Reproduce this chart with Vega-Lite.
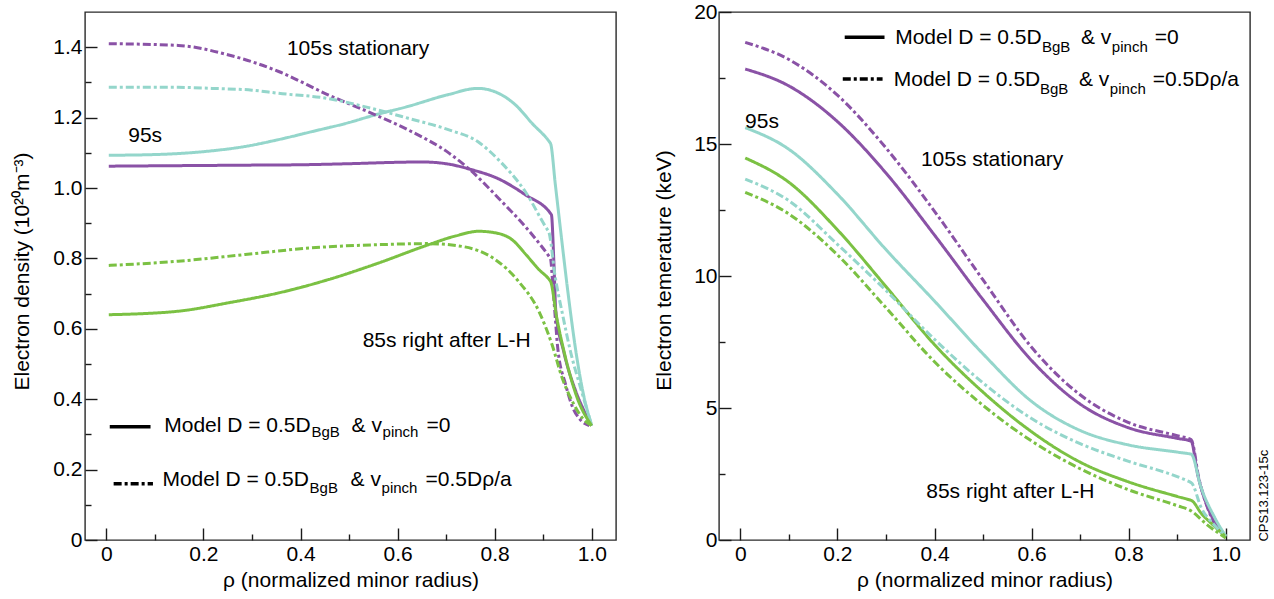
{
  "$schema": "https://vega.github.io/schema/vega-lite/v6.json",
  "padding": {"left": 10, "top": 0, "right": 0, "bottom": 0},
  "bounds": "flush",
  "spacing": 103,
  "background": "white",
  "config": {
    "font": "Liberation Sans",
    "view": {"stroke": "#2a2a2a", "strokeWidth": 1.4},
    "axis": {
      "grid": false,
      "domain": false,
      "labelFont": "Liberation Sans",
      "labelFontSize": 21,
      "labelColor": "#000000",
      "titleFont": "Liberation Sans",
      "titleFontSize": 21,
      "titleFontWeight": "normal",
      "titleColor": "#000000",
      "tickColor": "#1a1a1a",
      "tickWidth": 1.4,
      "zindex": 1
    },
    "text": {"font": "Liberation Sans", "color": "#000000"}
  },
  "resolve": {"scale": {"x": "independent", "y": "independent"}},
  "datasets": {
    "dens": [
      {"t":"105s","m":"A","x":0.005,"y":1.062},{"t":"105s","m":"A","x":0.1,"y":1.063},{"t":"105s","m":"A","x":0.2,"y":1.064},{"t":"105s","m":"A","x":0.3,"y":1.065},{"t":"105s","m":"A","x":0.4,"y":1.066},{"t":"105s","m":"A","x":0.5,"y":1.069},{"t":"105s","m":"A","x":0.6,"y":1.073},{"t":"105s","m":"A","x":0.65,"y":1.074},{"t":"105s","m":"A","x":0.7,"y":1.069},{"t":"105s","m":"A","x":0.75,"y":1.053},{"t":"105s","m":"A","x":0.808,"y":1.026},{"t":"105s","m":"A","x":0.863,"y":0.981},{"t":"105s","m":"A","x":0.9165,"y":0.925},{"t":"105s","m":"A","x":0.917,"y":0.924},{"t":"105s","m":"A","x":0.922,"y":0.79},{"t":"105s","m":"A","x":0.926,"y":0.65},{"t":"105s","m":"A","x":0.942,"y":0.537},{"t":"105s","m":"A","x":0.967,"y":0.423},{"t":"105s","m":"A","x":0.985,"y":0.365},{"t":"105s","m":"A","x":1.0,"y":0.325},
      {"t":"95s","m":"A","x":0.005,"y":1.093},{"t":"95s","m":"A","x":0.1,"y":1.095},{"t":"95s","m":"A","x":0.15,"y":1.098},{"t":"95s","m":"A","x":0.22,"y":1.106},{"t":"95s","m":"A","x":0.286,"y":1.118},{"t":"95s","m":"A","x":0.35,"y":1.136},{"t":"95s","m":"A","x":0.423,"y":1.16},{"t":"95s","m":"A","x":0.5,"y":1.186},{"t":"95s","m":"A","x":0.547,"y":1.205},{"t":"95s","m":"A","x":0.622,"y":1.232},{"t":"95s","m":"A","x":0.706,"y":1.266},{"t":"95s","m":"A","x":0.765,"y":1.283},{"t":"95s","m":"A","x":0.808,"y":1.269},{"t":"95s","m":"A","x":0.843,"y":1.236},{"t":"95s","m":"A","x":0.877,"y":1.184},{"t":"95s","m":"A","x":0.9145,"y":1.128},{"t":"95s","m":"A","x":0.915,"y":1.127},{"t":"95s","m":"A","x":0.925,"y":1.01},{"t":"95s","m":"A","x":0.935,"y":0.89},{"t":"95s","m":"A","x":0.955,"y":0.66},{"t":"95s","m":"A","x":0.968,"y":0.53},{"t":"95s","m":"A","x":0.982,"y":0.42},{"t":"95s","m":"A","x":1.0,"y":0.325},
      {"t":"105s","m":"B","x":0.005,"y":1.41},{"t":"105s","m":"B","x":0.148,"y":1.405},{"t":"105s","m":"B","x":0.252,"y":1.378},{"t":"105s","m":"B","x":0.355,"y":1.331},{"t":"105s","m":"B","x":0.458,"y":1.264},{"t":"105s","m":"B","x":0.547,"y":1.212},{"t":"105s","m":"B","x":0.622,"y":1.165},{"t":"105s","m":"B","x":0.706,"y":1.099},{"t":"105s","m":"B","x":0.749,"y":1.052},{"t":"105s","m":"B","x":0.808,"y":0.971},{"t":"105s","m":"B","x":0.877,"y":0.868},{"t":"105s","m":"B","x":0.9145,"y":0.801},{"t":"105s","m":"B","x":0.915,"y":0.8},{"t":"105s","m":"B","x":0.92,"y":0.72},{"t":"105s","m":"B","x":0.925,"y":0.63},{"t":"105s","m":"B","x":0.93,"y":0.545},{"t":"105s","m":"B","x":0.946,"y":0.443},{"t":"105s","m":"B","x":0.961,"y":0.376},{"t":"105s","m":"B","x":0.975,"y":0.344},{"t":"105s","m":"B","x":0.995,"y":0.325},
      {"t":"95s","m":"B","x":0.005,"y":1.286},{"t":"95s","m":"B","x":0.148,"y":1.286},{"t":"95s","m":"B","x":0.217,"y":1.283},{"t":"95s","m":"B","x":0.3,"y":1.278},{"t":"95s","m":"B","x":0.355,"y":1.269},{"t":"95s","m":"B","x":0.453,"y":1.255},{"t":"95s","m":"B","x":0.547,"y":1.226},{"t":"95s","m":"B","x":0.622,"y":1.198},{"t":"95s","m":"B","x":0.706,"y":1.165},{"t":"95s","m":"B","x":0.765,"y":1.132},{"t":"95s","m":"B","x":0.808,"y":1.08},{"t":"95s","m":"B","x":0.863,"y":0.99},{"t":"95s","m":"B","x":0.9105,"y":0.878},{"t":"95s","m":"B","x":0.911,"y":0.877},{"t":"95s","m":"B","x":0.925,"y":0.745},{"t":"95s","m":"B","x":0.94,"y":0.64},{"t":"95s","m":"B","x":0.956,"y":0.537},{"t":"95s","m":"B","x":0.979,"y":0.423},{"t":"95s","m":"B","x":1.0,"y":0.325},
      {"t":"85s","m":"A","x":0.005,"y":0.64},{"t":"85s","m":"A","x":0.148,"y":0.65},{"t":"85s","m":"A","x":0.252,"y":0.674},{"t":"85s","m":"A","x":0.355,"y":0.702},{"t":"85s","m":"A","x":0.458,"y":0.74},{"t":"85s","m":"A","x":0.561,"y":0.787},{"t":"85s","m":"A","x":0.664,"y":0.839},{"t":"85s","m":"A","x":0.72,"y":0.864},{"t":"85s","m":"A","x":0.767,"y":0.877},{"t":"85s","m":"A","x":0.8,"y":0.873},{"t":"85s","m":"A","x":0.836,"y":0.853},{"t":"85s","m":"A","x":0.865,"y":0.81},{"t":"85s","m":"A","x":0.89,"y":0.77},{"t":"85s","m":"A","x":0.9145,"y":0.736},{"t":"85s","m":"A","x":0.915,"y":0.735},{"t":"85s","m":"A","x":0.928,"y":0.631},{"t":"85s","m":"A","x":0.946,"y":0.518},{"t":"85s","m":"A","x":0.97,"y":0.404},{"t":"85s","m":"A","x":1.0,"y":0.325},
      {"t":"85s","m":"B","x":0.005,"y":0.78},{"t":"85s","m":"B","x":0.148,"y":0.792},{"t":"85s","m":"B","x":0.286,"y":0.811},{"t":"85s","m":"B","x":0.423,"y":0.83},{"t":"85s","m":"B","x":0.561,"y":0.839},{"t":"85s","m":"B","x":0.664,"y":0.842},{"t":"85s","m":"B","x":0.733,"y":0.834},{"t":"85s","m":"B","x":0.801,"y":0.797},{"t":"85s","m":"B","x":0.849,"y":0.735},{"t":"85s","m":"B","x":0.891,"y":0.65},{"t":"85s","m":"B","x":0.918,"y":0.556},{"t":"85s","m":"B","x":0.939,"y":0.461},{"t":"85s","m":"B","x":0.963,"y":0.386},{"t":"85s","m":"B","x":0.983,"y":0.343},{"t":"85s","m":"B","x":1.0,"y":0.325}
    ],
    "temp": [
      {"t":"105s","m":"A","x":0.01,"y":17.84},{"t":"105s","m":"A","x":0.1,"y":17.2},{"t":"105s","m":"A","x":0.2,"y":15.85},{"t":"105s","m":"A","x":0.3,"y":13.9},{"t":"105s","m":"A","x":0.4,"y":11.55},{"t":"105s","m":"A","x":0.5,"y":9.1},{"t":"105s","m":"A","x":0.6,"y":6.8},{"t":"105s","m":"A","x":0.7,"y":5.15},{"t":"105s","m":"A","x":0.8,"y":4.25},{"t":"105s","m":"A","x":0.9,"y":3.85},{"t":"105s","m":"A","x":0.9285,"y":3.745},{"t":"105s","m":"A","x":0.929,"y":3.74},{"t":"105s","m":"A","x":0.942,"y":2.5},{"t":"105s","m":"A","x":0.963,"y":1.23},{"t":"105s","m":"A","x":0.98,"y":0.6},{"t":"105s","m":"A","x":1.0,"y":0.15},
      {"t":"105s","m":"B","x":0.01,"y":18.85},{"t":"105s","m":"B","x":0.1,"y":18.2},{"t":"105s","m":"B","x":0.2,"y":16.85},{"t":"105s","m":"B","x":0.3,"y":14.85},{"t":"105s","m":"B","x":0.4,"y":12.45},{"t":"105s","m":"B","x":0.5,"y":9.85},{"t":"105s","m":"B","x":0.6,"y":7.3},{"t":"105s","m":"B","x":0.7,"y":5.5},{"t":"105s","m":"B","x":0.8,"y":4.45},{"t":"105s","m":"B","x":0.9,"y":3.95},{"t":"105s","m":"B","x":0.9285,"y":3.805},{"t":"105s","m":"B","x":0.929,"y":3.8},{"t":"105s","m":"B","x":0.945,"y":2.3},{"t":"105s","m":"B","x":0.96,"y":1.35},{"t":"105s","m":"B","x":0.977,"y":0.62},{"t":"105s","m":"B","x":1.0,"y":0.12},
      {"t":"95s","m":"A","x":0.01,"y":15.62},{"t":"95s","m":"A","x":0.1,"y":14.8},{"t":"95s","m":"A","x":0.2,"y":13.1},{"t":"95s","m":"A","x":0.3,"y":11.0},{"t":"95s","m":"A","x":0.4,"y":9.05},{"t":"95s","m":"A","x":0.5,"y":7.05},{"t":"95s","m":"A","x":0.6,"y":5.25},{"t":"95s","m":"A","x":0.7,"y":4.15},{"t":"95s","m":"A","x":0.8,"y":3.6},{"t":"95s","m":"A","x":0.9,"y":3.33},{"t":"95s","m":"A","x":0.9285,"y":3.252},{"t":"95s","m":"A","x":0.929,"y":3.25},{"t":"95s","m":"A","x":0.949,"y":2.0},{"t":"95s","m":"A","x":0.977,"y":0.86},{"t":"95s","m":"A","x":1.0,"y":0.15},
      {"t":"85s","m":"A","x":0.01,"y":14.47},{"t":"85s","m":"A","x":0.1,"y":13.55},{"t":"85s","m":"A","x":0.2,"y":11.75},{"t":"85s","m":"A","x":0.3,"y":9.6},{"t":"85s","m":"A","x":0.4,"y":7.4},{"t":"85s","m":"A","x":0.5,"y":5.6},{"t":"85s","m":"A","x":0.6,"y":4.1},{"t":"85s","m":"A","x":0.7,"y":2.95},{"t":"85s","m":"A","x":0.8,"y":2.2},{"t":"85s","m":"A","x":0.9,"y":1.65},{"t":"85s","m":"A","x":0.9285,"y":1.503},{"t":"85s","m":"A","x":0.929,"y":1.5},{"t":"85s","m":"A","x":0.95,"y":1.0},{"t":"85s","m":"A","x":0.975,"y":0.55},{"t":"85s","m":"A","x":1.0,"y":0.12},
      {"t":"95s","m":"B","x":0.01,"y":13.67},{"t":"95s","m":"B","x":0.1,"y":12.85},{"t":"95s","m":"B","x":0.2,"y":11.2},{"t":"95s","m":"B","x":0.3,"y":9.45},{"t":"95s","m":"B","x":0.4,"y":7.6},{"t":"95s","m":"B","x":0.5,"y":5.95},{"t":"95s","m":"B","x":0.6,"y":4.6},{"t":"95s","m":"B","x":0.7,"y":3.65},{"t":"95s","m":"B","x":0.8,"y":2.98},{"t":"95s","m":"B","x":0.9,"y":2.4},{"t":"95s","m":"B","x":0.9285,"y":2.175},{"t":"95s","m":"B","x":0.929,"y":2.17},{"t":"95s","m":"B","x":0.95,"y":1.2},{"t":"95s","m":"B","x":0.975,"y":0.6},{"t":"95s","m":"B","x":1.0,"y":0.12},
      {"t":"85s","m":"B","x":0.01,"y":13.17},{"t":"85s","m":"B","x":0.1,"y":12.35},{"t":"85s","m":"B","x":0.2,"y":10.8},{"t":"85s","m":"B","x":0.3,"y":8.8},{"t":"85s","m":"B","x":0.4,"y":6.75},{"t":"85s","m":"B","x":0.5,"y":5.1},{"t":"85s","m":"B","x":0.6,"y":3.75},{"t":"85s","m":"B","x":0.7,"y":2.7},{"t":"85s","m":"B","x":0.8,"y":1.9},{"t":"85s","m":"B","x":0.9,"y":1.3},{"t":"85s","m":"B","x":0.929,"y":1.1},{"t":"85s","m":"B","x":0.96,"y":0.6},{"t":"85s","m":"B","x":1.0,"y":0.08}
    ],
    "legL": [
      {"m":"A","x":0.007,"y":0.322},{"m":"A","x":0.091,"y":0.322},
      {"m":"B","x":0.015,"y":0.16},{"m":"B","x":0.096,"y":0.16}
    ],
    "legR": [
      {"m":"A","x":0.215,"y":19.04},{"m":"A","x":0.297,"y":19.04},
      {"m":"B","x":0.211,"y":17.46},{"m":"B","x":0.293,"y":17.46}
    ],
    "txtL": [
      {"x":0.372,"y":1.394,"s":"105s stationary"},
      {"x":0.045,"y":1.147,"s":"95s"},
      {"x":0.528,"y":0.566,"s":"85s right after L-H"},
      {"x":0.1192,"y":0.324,"s":"Model D = 0.5D"},
      {"x":0.5052,"y":0.324,"s":"& v"},
      {"x":0.6598,"y":0.324,"s":"=0"},
      {"x":0.1155,"y":0.17,"s":"Model D = 0.5D"},
      {"x":0.5031,"y":0.17,"s":"& v"},
      {"x":0.6577,"y":0.17,"s":"=0.5Dρ/a"}
    ],
    "subL": [
      {"x":0.4227,"y":0.306,"s":"BgB"},{"x":0.5691,"y":0.306,"s":"pinch"},
      {"x":0.4186,"y":0.149,"s":"BgB"},{"x":0.567,"y":0.149,"s":"pinch"}
    ],
    "txtR": [
      {"x":0.0097,"y":15.83,"s":"95s"},
      {"x":0.372,"y":14.41,"s":"105s stationary"},
      {"x":0.383,"y":1.81,"s":"85s right after L-H"},
      {"x":0.319,"y":19.02,"s":"Model D = 0.5D"},
      {"x":0.7016,"y":19.02,"s":"& v"},
      {"x":0.8539,"y":19.02,"s":"=0"},
      {"x":0.316,"y":17.43,"s":"Model D = 0.5D"},
      {"x":0.6975,"y":17.43,"s":"& v"},
      {"x":0.8498,"y":17.43,"s":"=0.5Dρ/a"}
    ],
    "subR": [
      {"x":0.6214,"y":18.68,"s":"BgB"},{"x":0.7654,"y":18.68,"s":"pinch"},
      {"x":0.6173,"y":17.1,"s":"BgB"},{"x":0.7613,"y":17.1,"s":"pinch"}
    ],
    "cps": [{"x":1.0796,"y":1.68,"s":"CPS13.123-15c"}]
  },
  "hconcat": [
    {
      "width": 531,
      "height": 528,
      "resolve": {"axis": {"x": "independent", "y": "independent"}},
      "layer": [
        {
          "data": {"name": "dens"},
          "mark": {"type": "line", "interpolate": "monotone", "strokeWidth": 3},
          "encoding": {
            "x": {"field": "x", "type": "quantitative",
                  "scale": {"domain": [-0.044, 1.05], "nice": false, "zero": false},
                  "axis": {"orient": "bottom", "title": "ρ (normalized minor radius)",
                           "values": [0,0.2,0.4,0.6,0.8,1.0],
                           "labelExpr": "datum.value==0 ? '0' : format(datum.value,'.1f')",
                           "offset": -12, "tickSize": 12,
                           "labelPadding": 20, "labelBaseline": "alphabetic",
                           "titleBaseline": "alphabetic", "titleY": 58}},
            "y": {"field": "y", "type": "quantitative",
                  "scale": {"domain": [0, 1.5], "nice": false, "zero": false},
                  "axis": {"orient": "left", "title": "Electron density (10²⁰m⁻³)",
                           "values": [0,0.2,0.4,0.6,0.8,1.0,1.2,1.4],
                           "labelExpr": "datum.value==0 ? '0' : format(datum.value,'.1f')",
                           "offset": -12, "tickSize": 12,
                           "labelPadding": 3,
                           "titleBaseline": "middle", "titleX": -75, "titleY": 259}},
            "color": {"field": "t", "type": "nominal",
                      "scale": {"domain": ["85s","95s","105s"], "range": ["#7bc143","#94d6cb","#8a52a6"]},
                      "legend": null},
            "strokeDash": {"field": "m", "type": "nominal",
                           "scale": {"domain": ["A","B"], "range": [[1,0],[8,3,3,3]]},
                           "legend": null}
          }
        },
        {
          "data": {"name": "legL"},
          "mark": {"type": "line", "color": "#000000", "strokeWidth": 3.5},
          "encoding": {
            "x": {"field": "x", "type": "quantitative",
                  "scale": {"domain": [-0.044, 1.05], "nice": false, "zero": false},
                  "axis": {"orient": "bottom", "title": null, "values": [0.1,0.3,0.5,0.7,0.9],
                           "labels": false, "offset": -6, "tickSize": 6}},
            "y": {"field": "y", "type": "quantitative",
                  "scale": {"domain": [0, 1.5], "nice": false, "zero": false},
                  "axis": {"orient": "left", "title": null, "values": [0.1,0.3,0.5,0.7,0.9,1.1,1.3],
                           "labels": false, "offset": -6, "tickSize": 6}},
            "strokeDash": {"field": "m", "type": "nominal",
                           "scale": {"domain": ["A","B"], "range": [[1,0],[8,3,3,3]]},
                           "legend": null}
          }
        },
        {
          "data": {"name": "txtL"},
          "mark": {"type": "text", "fontSize": 21, "align": "left", "baseline": "middle"},
          "encoding": {
            "x": {"field": "x", "type": "quantitative", "scale": {"domain": [-0.044, 1.05], "nice": false, "zero": false}, "axis": null},
            "y": {"field": "y", "type": "quantitative", "scale": {"domain": [0, 1.5], "nice": false, "zero": false}, "axis": null},
            "text": {"field": "s"}
          }
        },
        {
          "data": {"name": "subL"},
          "mark": {"type": "text", "fontSize": 15, "align": "left", "baseline": "middle"},
          "encoding": {
            "x": {"field": "x", "type": "quantitative", "scale": {"domain": [-0.044, 1.05], "nice": false, "zero": false}, "axis": null},
            "y": {"field": "y", "type": "quantitative", "scale": {"domain": [0, 1.5], "nice": false, "zero": false}, "axis": null},
            "text": {"field": "s"}
          }
        }
      ]
    },
    {
      "width": 531,
      "height": 528,
      "resolve": {"axis": {"x": "independent", "y": "independent"}},
      "layer": [
        {
          "data": {"name": "temp"},
          "mark": {"type": "line", "interpolate": "monotone", "strokeWidth": 3},
          "encoding": {
            "x": {"field": "x", "type": "quantitative",
                  "scale": {"domain": [-0.044, 1.05], "nice": false, "zero": false},
                  "axis": {"orient": "bottom", "title": "ρ (normalized minor radius)",
                           "values": [0,0.2,0.4,0.6,0.8,1.0],
                           "labelExpr": "datum.value==0 ? '0' : format(datum.value,'.1f')",
                           "offset": -12, "tickSize": 12,
                           "labelPadding": 20, "labelBaseline": "alphabetic",
                           "titleBaseline": "alphabetic", "titleY": 58}},
            "y": {"field": "y", "type": "quantitative",
                  "scale": {"domain": [0, 20], "nice": false, "zero": false},
                  "axis": {"orient": "left", "title": "Electron temerature (keV)",
                           "values": [0,5,10,15,20],
                           "offset": -12, "tickSize": 12,
                           "labelPadding": 2,
                           "titleBaseline": "middle", "titleX": -67, "titleY": 258}},
            "color": {"field": "t", "type": "nominal",
                      "scale": {"domain": ["85s","95s","105s"], "range": ["#7bc143","#94d6cb","#8a52a6"]},
                      "legend": null},
            "strokeDash": {"field": "m", "type": "nominal",
                           "scale": {"domain": ["A","B"], "range": [[1,0],[8,3,3,3]]},
                           "legend": null}
          }
        },
        {
          "data": {"name": "legR"},
          "mark": {"type": "line", "color": "#000000", "strokeWidth": 3.5},
          "encoding": {
            "x": {"field": "x", "type": "quantitative",
                  "scale": {"domain": [-0.044, 1.05], "nice": false, "zero": false},
                  "axis": {"orient": "bottom", "title": null, "values": [0.1,0.3,0.5,0.7,0.9],
                           "labels": false, "offset": -6, "tickSize": 6}},
            "y": {"field": "y", "type": "quantitative",
                  "scale": {"domain": [0, 20], "nice": false, "zero": false},
                  "axis": {"orient": "left", "title": null, "values": [2.5,7.5,12.5,17.5],
                           "labels": false, "offset": -6, "tickSize": 6}},
            "strokeDash": {"field": "m", "type": "nominal",
                           "scale": {"domain": ["A","B"], "range": [[1,0],[8,3,3,3]]},
                           "legend": null}
          }
        },
        {
          "data": {"name": "txtR"},
          "mark": {"type": "text", "fontSize": 21, "align": "left", "baseline": "middle"},
          "encoding": {
            "x": {"field": "x", "type": "quantitative", "scale": {"domain": [-0.044, 1.05], "nice": false, "zero": false}, "axis": null},
            "y": {"field": "y", "type": "quantitative", "scale": {"domain": [0, 20], "nice": false, "zero": false}, "axis": null},
            "text": {"field": "s"}
          }
        },
        {
          "data": {"name": "subR"},
          "mark": {"type": "text", "fontSize": 15, "align": "left", "baseline": "middle"},
          "encoding": {
            "x": {"field": "x", "type": "quantitative", "scale": {"domain": [-0.044, 1.05], "nice": false, "zero": false}, "axis": null},
            "y": {"field": "y", "type": "quantitative", "scale": {"domain": [0, 20], "nice": false, "zero": false}, "axis": null},
            "text": {"field": "s"}
          }
        },
        {
          "data": {"name": "cps"},
          "mark": {"type": "text", "fontSize": 13, "align": "center", "baseline": "middle", "angle": 270},
          "encoding": {
            "x": {"field": "x", "type": "quantitative", "scale": {"domain": [-0.044, 1.05], "nice": false, "zero": false}, "axis": null},
            "y": {"field": "y", "type": "quantitative", "scale": {"domain": [0, 20], "nice": false, "zero": false}, "axis": null},
            "text": {"field": "s"}
          }
        }
      ]
    }
  ]
}
